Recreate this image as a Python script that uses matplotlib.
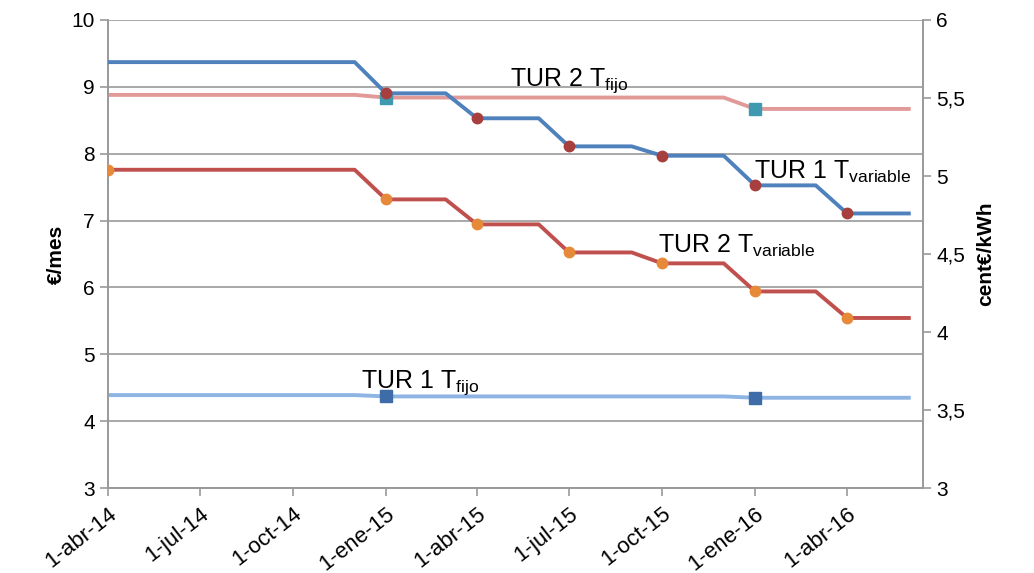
import pandas as pd
import matplotlib.pyplot as plt
import numpy as np

plt.rcParams['font.family'] = ['Liberation Sans', 'DejaVu Sans']
plt.rcParams['mathtext.fontset'] = 'custom'
plt.rcParams['mathtext.rm'] = 'Liberation Sans'
plt.rcParams['mathtext.it'] = 'Liberation Sans'

# monthly data, abr-14 .. jun-16
months = pd.date_range('2014-04-01', '2016-06-01', freq='MS')

# left axis (EUR/mes)
tur1_fijo = [4.39] * 9 + [4.37] * 12 + [4.35] * 6
tur2_fijo = [8.88] * 9 + [8.84] * 12 + [8.67] * 6

# right axis (cent EUR/kWh)
tur1_var = [5.73] * 9 + [5.53] * 3 + [5.37] * 3 + [5.19] * 3 + [5.13] * 3 + [4.94] * 3 + [4.76] * 3
tur2_var = [5.04] * 9 + [4.85] * 3 + [4.69] * 3 + [4.51] * 3 + [4.44] * 3 + [4.26] * 3 + [4.09] * 3

# where the markers sit (index into months)
mk_var1 = [9, 12, 15, 18, 21, 24]
mk_var2 = [0, 9, 12, 15, 18, 21, 24]
mk_fijo = [9, 21]

tick_dates = pd.date_range('2014-04-01', '2016-04-01', freq='3MS')
tick_labels = ['1-abr-14', '1-jul-14', '1-oct-14', '1-ene-15', '1-abr-15',
               '1-jul-15', '1-oct-15', '1-ene-16', '1-abr-16']

grey = '#999999'

fig = plt.figure(figsize=(10.34, 5.73), dpi=100)
ax = fig.add_axes([0.1044, 0.1483, 0.7882, 0.8168])
ax2 = ax.twinx()

ax.plot(months, tur2_fijo, color='#E29A98', lw=2.8, marker='s', ms=8,
        mfc='#3F9AB0', mec='#3F9AB0', markevery=mk_fijo, zorder=3)
ax.plot(months, tur1_fijo, color='#8EB4E3', lw=2.8, marker='s', ms=8,
        mfc='#3D6CA8', mec='#3D6CA8', markevery=mk_fijo, zorder=3)

ax2.plot(months, tur1_var, color='#4F81BD', lw=2.8, marker='o', ms=7.5,
         mfc='#A63F3E', mec='#A63F3E', markevery=mk_var1, zorder=3)
ax2.plot(months, tur2_var, color='#C0504D', lw=2.8, marker='o', ms=7.5,
         mfc='#E68A3A', mec='#E68A3A', markevery=mk_var2, zorder=3)

ax.set_xlim(pd.Timestamp('2014-04-01'), pd.Timestamp('2016-06-15'))
ax.set_ylim(3, 10)
ax2.set_ylim(3, 6)
ax.set_yticks(np.arange(3, 11, 1))
ax2.set_yticks(np.arange(3, 6.01, 0.5))
ax2.set_yticklabels(['3', '3,5', '4', '4,5', '5', '5,5', '6'])

ax.set_xticks(tick_dates)
ax.set_xticklabels(tick_labels, rotation=38, ha='right', va='top',
                   rotation_mode='anchor', fontsize=16)

ax.grid(axis='y', color=grey, lw=1.2)
ax.set_axisbelow(True)

for a in (ax, ax2):
    for s in a.spines.values():
        s.set_color(grey)
        s.set_linewidth(1.2)
    a.spines['top'].set_visible(False)
    a.tick_params(colors=grey, labelcolor='black', labelsize=15, width=1.2, length=6)
ax.tick_params(axis='x', pad=5, labelsize=16)

ax.set_ylabel('€/mes', fontsize=15, fontweight='bold', labelpad=4)
ax2.set_ylabel('cent€/kWh', fontsize=15, fontweight='bold', labelpad=8)

lab = dict(fontsize=18, color='black')
ax.text(pd.Timestamp('2015-05-04'), 9.02, r'TUR 2 T$_{\mathregular{fijo}}$', **lab)
ax.text(pd.Timestamp('2015-12-31'), 7.62, r'TUR 1 T$_{\mathregular{variable}}$', **lab)
ax.text(pd.Timestamp('2015-09-27'), 6.52, r'TUR 2 T$_{\mathregular{variable}}$', **lab)
ax.text(pd.Timestamp('2014-12-07'), 4.50, r'TUR 1 T$_{\mathregular{fijo}}$', **lab)

fig.savefig('out.png', dpi=100)
